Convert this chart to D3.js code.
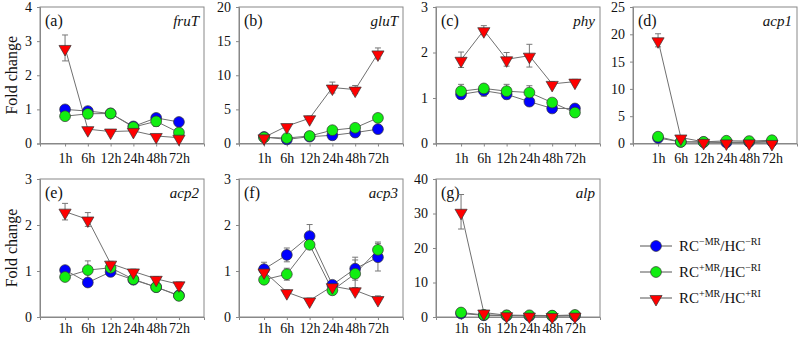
<!DOCTYPE html>
<html><head><meta charset="utf-8">
<script src="https://cdn.jsdelivr.net/npm/d3@7"></script>
<style>body{margin:0;background:#fff}svg{display:block}</style>
</head><body><svg id="c" width="800" height="337" font-family="Liberation Serif"></svg>
<script>
const times = ["1h","6h","12h","24h","48h","72h"];
const panels = ["(a)","(b)","(c)","(d)","(e)","(f)","(g)"];
const genes = ["fruT","gluT","phy","acp1","acp2","acp3","alp"];
const yMax = [4,20,3,25,3,3,40];
const yTicks = [[0,1,2,3,4],[0,5,10,15,20],[0,1,2,3],[0,5,10,15,20,25],[0,1,2,3],[0,1,2,3],[0,10,20,30,40]];
// series: RC-MR/HC-RI (blue), RC+MR/HC-RI (green), RC+MR/HC+RI (red)
const blue = [
  [1.0,0.95,0.88,0.50,0.75,0.63],
  [0.95,0.6,1.0,1.2,1.6,2.1],
  [1.08,1.16,1.08,0.92,0.77,0.77],
  [1.0,0.3,0.25,0.2,0.3,0.4],
  [1.02,0.75,0.98,0.81,0.65,0.47],
  [1.04,1.35,1.76,0.70,1.05,1.30],
  [1.0,0.5,0.4,0.3,0.3,0.4]
];
const green = [
  [0.80,0.87,0.88,0.48,0.65,0.32],
  [0.9,0.8,1.1,1.95,2.3,3.75],
  [1.15,1.21,1.15,1.12,0.90,0.68],
  [1.25,0.3,0.3,0.5,0.45,0.6],
  [0.87,1.02,1.07,0.82,0.65,0.46],
  [0.81,0.93,1.57,0.58,0.94,1.46],
  [1.3,0.6,0.5,0.5,0.4,0.6]
];
const red = [
  [2.80,0.42,0.35,0.37,0.22,0.17],
  [0.9,2.55,3.7,8.2,7.9,13.2],
  [1.84,2.49,1.85,1.93,1.31,1.36],
  [18.9,1.1,0.3,0.2,0.2,0.1],
  [2.29,2.12,1.16,0.99,0.83,0.71],
  [0.99,0.54,0.36,0.67,0.58,0.39],
  [30.5,1.3,0.5,0.4,0.3,0.4]
];
const blueErr = [
  [0.05,0.05,0.08,0.05,0.05,0.04],
  [0.1,0.1,0.1,0.15,0.15,0.2],
  [0.1,0.12,0.1,0.05,0.05,0.05],
  [0.1,0.05,0.05,0.05,0.05,0.05],
  [0.05,0.05,0.08,0.05,0.05,0.05],
  [0.15,0.15,0.25,0.05,0.25,0.3],
  [0.2,0.1,0.1,0.1,0.1,0.1]
];
const greenErr = [
  [0.1,0.08,0.12,0.05,0.15,0.1],
  [0.1,0.1,0.15,0.2,0.2,0.3],
  [0.15,0.08,0.15,0.15,0.05,0.05],
  [0.15,0.05,0.05,0.05,0.05,0.05],
  [0.05,0.2,0.05,0.05,0.05,0.05],
  [0.05,0.13,0.05,0.05,0.3,0.17],
  [0.3,0.1,0.1,0.1,0.1,0.1]
];
const redErr = [
  [0.38,0.05,0.05,0.05,0.03,0.03],
  [0.1,0.2,0.3,0.8,0.6,0.8],
  [0.17,0.1,0.15,0.25,0.05,0.05],
  [1.2,0.1,0.05,0.05,0.05,0.05],
  [0.18,0.15,0.05,0.05,0.05,0.05],
  [0.05,0.05,0.05,0.05,0.05,0.07],
  [5.0,0.3,0.1,0.1,0.1,0.1]
];
const seriesNames = [["−MR","−RI"],["+MR","−RI"],["+MR","+RI"]];
const colors = ["#0000ff","#11ee11","#ff0000"];

const FONT = "Liberation Serif";
const svg = d3.select("#c");
const colLeft = [40,239,436,633];
const W = 164;
const rows = [{top:7,bottom:143.5,pad:7},{top:179,bottom:317,pad:3}];
const axisCol = "#888";
const all = [blue, green, red];
const errs = [blueErr, greenErr, redErr];

panels.forEach((lab,i)=>{
  const r = i<4?0:1, c = i<4?i:i-4;
  const L = colLeft[c], R = rows[r];
  const g = svg.append("g");
  const x = d3.scalePoint().domain(times).range([L, L+W]).padding(1.1);
  const y = d3.scaleLinear().domain([0,yMax[i]]).range([R.bottom, R.top]);
  g.append("rect").attr("x",L).attr("y",R.top).attr("width",W).attr("height",R.bottom-R.top)
    .attr("fill","none").attr("stroke",axisCol).attr("stroke-width",1);
  const ya = g.append("g").attr("transform",`translate(${L},0)`)
    .call(d3.axisLeft(y).tickValues(yTicks[i]).tickSize(3).tickPadding(5).tickFormat(d3.format("d")));
  const xa = g.append("g").attr("transform",`translate(0,${R.bottom})`)
    .call(d3.axisBottom(x).tickSize(3).tickPadding(R.pad));
  [ya,xa].forEach(a=>{
    a.attr("font-family",FONT).attr("font-size",14);
    a.select(".domain").attr("stroke",axisCol);
    a.selectAll(".tick line").attr("stroke",axisCol);
    a.selectAll("text").attr("fill","#111");
  });
  g.append("text").attr("x",L+5).attr("y",R.top+19).text(lab).attr("font-size",16).attr("font-family",FONT).attr("fill","#111");
  g.append("text").attr("x",L+W-5).attr("y",R.top+19).attr("text-anchor","end")
    .attr("font-style","italic").attr("font-size",15).attr("font-family",FONT).attr("fill","#111").text(genes[i]);
  const line = d3.line().x((d,k)=>x(times[k])).y(d=>y(d));
  all.forEach((s,si)=>{
    g.append("path").attr("d",line(s[i])).attr("fill","none").attr("stroke","#707070").attr("stroke-width",1);
  });
  all.forEach((s,si)=>{
    const e = errs[si][i];
    s[i].forEach((v,k)=>{
      const cx = x(times[k]);
      const y1 = y(v+e[k]), y2 = y(Math.max(0,v-e[k]));
      g.append("line").attr("x1",cx).attr("x2",cx).attr("y1",y1).attr("y2",y2).attr("stroke","#777").attr("stroke-width",1);
      [y1,y2].forEach(yy=>g.append("line").attr("x1",cx-3).attr("x2",cx+3).attr("y1",yy).attr("y2",yy).attr("stroke","#777").attr("stroke-width",1));
    });
  });
  all.forEach((s,si)=>{
    s[i].forEach((v,k)=>{
      const cx = x(times[k]), cy = y(v);
      if(si<2){
        g.append("circle").attr("cx",cx).attr("cy",cy).attr("r",5.4).attr("fill",colors[si]).attr("stroke","#333").attr("stroke-width",0.7);
      } else {
        g.append("path").attr("d",d3.symbol(d3.symbolTriangle,64)()).attr("transform",`translate(${cx},${cy+1}) rotate(180)`)
          .attr("fill",colors[si]).attr("stroke","#333").attr("stroke-width",0.7);
      }
    });
  });
});
rows.forEach(R=>{
  svg.append("text").attr("transform",`translate(17,${(R.top+R.bottom)/2}) rotate(-90)`).attr("text-anchor","middle")
    .attr("font-size",16).attr("font-family",FONT).attr("fill","#111").text("Fold change");
});
const legY = [246,272,298];
seriesNames.forEach((n,si)=>{
  const yy = legY[si];
  svg.append("line").attr("x1",640).attr("x2",672).attr("y1",yy).attr("y2",yy).attr("stroke","#555").attr("stroke-width",1);
  if(si<2) svg.append("circle").attr("cx",656).attr("cy",yy).attr("r",5.4).attr("fill",colors[si]).attr("stroke","#333").attr("stroke-width",0.7);
  else svg.append("path").attr("d",d3.symbol(d3.symbolTriangle,64)()).attr("transform",`translate(656,${yy+1}) rotate(180)`).attr("fill",colors[si]).attr("stroke","#333").attr("stroke-width",0.7);
  const t = svg.append("text").attr("x",679).attr("y",yy+5).attr("font-size",15).attr("font-family",FONT).attr("fill","#111");
  t.append("tspan").text("RC");
  t.append("tspan").attr("dy",-6).attr("font-size",10).text(n[0]);
  t.append("tspan").attr("dy",6).text("/HC");
  t.append("tspan").attr("dy",-6).attr("font-size",10).text(n[1]);
});
</script></body></html>
